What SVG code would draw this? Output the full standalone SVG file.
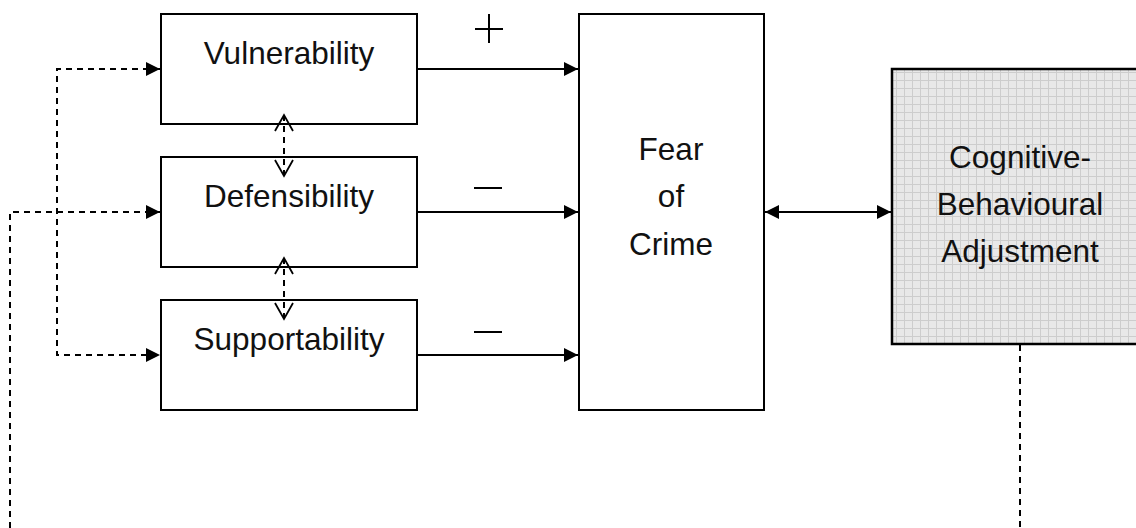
<svg xmlns="http://www.w3.org/2000/svg" width="1136" height="528" viewBox="0 0 1136 528">
<style>
.box{fill:#fff;stroke:#000;stroke-width:2}
.lbl{font-family:"Liberation Sans",Arial,sans-serif;font-size:31.5px;fill:#111;text-anchor:middle}
.solid{stroke:#000;stroke-width:2;fill:none}
.dash{stroke:#000;stroke-width:2;fill:none;stroke-dasharray:6 5}
.sign{stroke:#000;stroke-width:2;fill:none}
</style>
<defs>
<marker id="fa" viewBox="0 0 14 14" refX="14" refY="7" markerWidth="14" markerHeight="14" markerUnits="userSpaceOnUse" orient="auto-start-reverse">
<path d="M0,0 L14,7 L0,14 Z" fill="#000"/>
</marker>
<marker id="oa" viewBox="-1 -1 19 20" refX="16" refY="9" markerWidth="19" markerHeight="20" markerUnits="userSpaceOnUse" orient="auto-start-reverse">
<path d="M0,0 L16,9 L0,18" fill="none" stroke="#000" stroke-width="1.8"/>
</marker>
<pattern id="grid" width="8" height="8" patternUnits="userSpaceOnUse">
<rect width="8" height="8" fill="#e8e8e8"/>
<path d="M0,0.5 H8 M0.5,0 V8" stroke="#cdcdcd" stroke-width="1"/>
</pattern>
</defs>

<g id="vulnerability">
<rect class="box" x="161" y="14" width="256" height="110"/>
<text class="lbl" x="289" y="64">Vulnerability</text>
</g>
<g id="defensibility">
<rect class="box" x="161" y="157" width="256" height="110"/>
<text class="lbl" x="289" y="207">Defensibility</text>
</g>
<g id="supportability">
<rect class="box" x="161" y="300" width="256" height="110"/>
<text class="lbl" x="289" y="350">Supportability</text>
</g>
<g id="fear-of-crime">
<rect class="box" x="579" y="14" width="185" height="396"/>
<text class="lbl" x="671" y="160">Fear</text>
<text class="lbl" x="671" y="207">of</text>
<text class="lbl" x="671" y="255">Crime</text>
</g>
<g id="cognitive-behavioural-adjustment">
<rect x="892" y="69" width="260" height="275" fill="url(#grid)" stroke="#000" stroke-width="2.5"/>
<text class="lbl" x="1020" y="168">Cognitive-</text>
<text class="lbl" x="1020" y="215">Behavioural</text>
<text class="lbl" x="1020" y="262">Adjustment</text>
</g>

<g id="connectors">
<line class="solid" x1="417" y1="69" x2="578" y2="69" marker-end="url(#fa)"/>
<line class="solid" x1="417" y1="212" x2="578" y2="212" marker-end="url(#fa)"/>
<line class="solid" x1="417" y1="355" x2="578" y2="355" marker-end="url(#fa)"/>
<line class="solid" x1="765" y1="212" x2="891" y2="212" marker-start="url(#fa)" marker-end="url(#fa)"/>
<polyline class="dash" points="160,69 57,69 57,355 160,355" marker-start="url(#fa)" marker-end="url(#fa)"/>
<polyline class="dash" points="10,528 10,212 160,212" marker-end="url(#fa)"/>
<line class="dash" x1="1020" y1="345" x2="1020" y2="528"/>
<line class="dash" x1="284" y1="176" x2="284" y2="115" marker-start="url(#oa)" marker-end="url(#oa)"/>
<line class="dash" x1="284" y1="319" x2="284" y2="258" marker-start="url(#oa)" marker-end="url(#oa)"/>
</g>

<g id="signs">
<path class="sign" d="M475,29 H503 M489,14 V43"/>
<path class="sign" d="M474,188 H502"/>
<path class="sign" d="M474,332 H502"/>
</g>
</svg>
